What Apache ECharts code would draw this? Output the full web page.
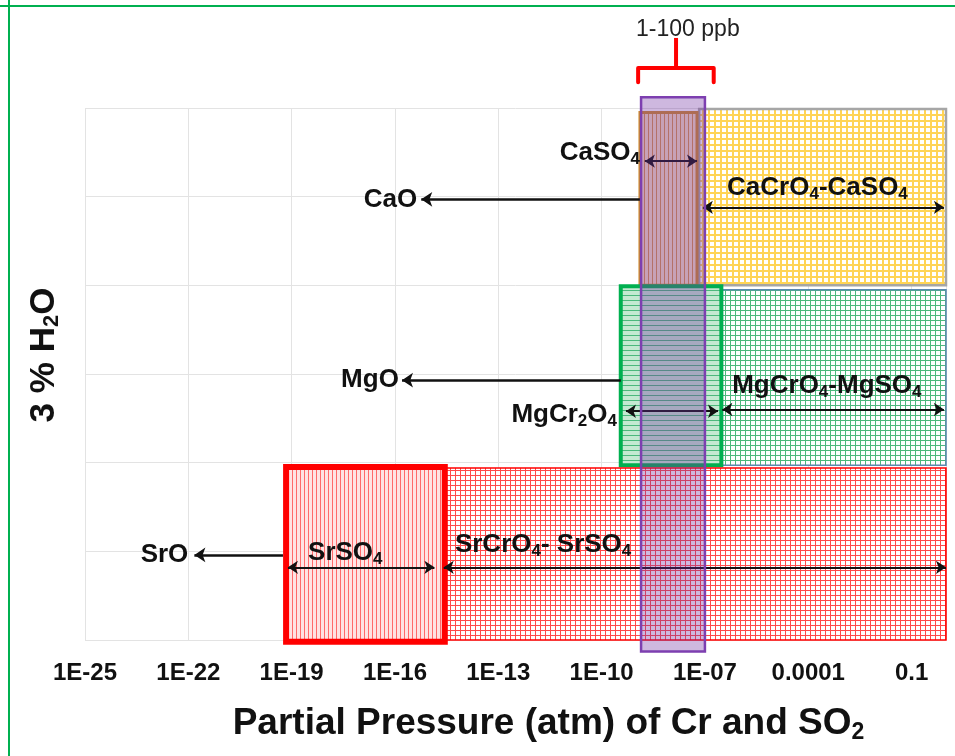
<!DOCTYPE html>
<html>
<head>
<meta charset="utf-8">
<script src="https://cdn.jsdelivr.net/npm/echarts@6/dist/echarts.min.js"></script>
<style>
html, body { margin: 0; padding: 0; background: #fff; }
#chart { width: 955px; height: 756px; }
</style>
</head>
<body>
<div id="chart"></div>
<script>
// x axis: log10 of partial pressure, tick every 3 decades
var decadeMin = -25, decadeMax = 0;
var xTickLabels = ['1E-25', '1E-22', '1E-19', '1E-16', '1E-13', '1E-10', '1E-07', '0.0001', '0.1'];

// stability fields (atm) and row span (rows: Sr 0-2, Mg 2-4, Ca 4-6)
var phaseNames  = ['CaCrO4-CaSO4', 'CaSO4', 'MgCrO4-MgSO4', 'MgCr2O4', 'SrCrO4-SrSO4', 'SrSO4'];
var phaseFrom   = [6.8e-8, 1.3e-9, 3.2e-7, 3.6e-10, 2.8e-15, 6.9e-20];
var phaseTo     = [1, 5.9e-8, 1, 3.0e-7, 1, 2.8e-15];
var phaseBottom = [4.0, 4.0, 1.97, 1.97, 0.0, -0.02];
var phaseTop    = [5.99, 5.95, 3.95, 3.99, 1.94, 1.95];

// 1-100 ppb band
var ppbFrom = 1.4e-9, ppbTo = 1e-7;
var ppbBottom = -0.13, ppbTop = 6.12;
var bracketFrom = 1.15e-9, bracketTo = 1.8e-7, bracketMid = 1.45e-8;
var bracketY = [6.29, 6.45, 6.79];

// oxide arrows (one head)
var oxideFrom = [1.3e-9, 3.6e-10, 5.6e-20];
var oxideTo   = [5.8e-16, 1.6e-16, 1.5e-22];
var oxideY    = [4.97, 2.93, 0.96];

// range arrows (two heads)
var spanFrom = [1.8e-9, 8.7e-8, 5.1e-10, 3.2e-7, 7.8e-20, 2.6e-15];
var spanTo   = [5.9e-8, 0.87, 2.4e-7, 0.87, 1.4e-15, 1];
var spanY    = [5.40, 4.88, 2.58, 2.60, 0.82, 0.82];

// labels
var labelTexts = ['CaO', 'CaSO{s|4}', 'CaCrO{s|4}-CaSO{s|4}', 'MgO', 'MgCr{s|2}O{s|4}',
                  'MgCrO{s|4}-MgSO{s|4}', 'SrO', 'SrSO{s|4}', 'SrCrO{s|4}- SrSO{s|4}'];
var labelAt    = [4.4e-16, 1.3e-9, 4.4e-7, 1.3e-16, 2.8e-10, 6.2e-7, 1e-22, 3.0e-19, 5.5e-15];
var labelY     = [4.96, 5.49, 5.10, 2.93, 2.54, 2.87, 0.96, 0.98, 1.07];
var labelAlign = ['right', 'right', 'left', 'right', 'right', 'left', 'right', 'left', 'left'];

function lx(p) { return Math.log10(p) - decadeMin; }

var FONT = '"Liberation Sans", Arial, sans-serif';

function makePattern(size, bg, color, lw, vert, horiz) {
    var c = document.createElement('canvas');
    c.width = size; c.height = size;
    var g = c.getContext('2d');
    g.fillStyle = bg;
    g.fillRect(0, 0, size, size);
    g.fillStyle = color;
    if (vert) g.fillRect(0, 0, lw, size);
    if (horiz) g.fillRect(0, 0, size, lw);
    return { image: c, repeat: 'repeat' };
}

var phaseStyle = [
    { fill: makePattern(6, '#ffffff', '#ffd455', 2, true, true), stroke: '#a6a6a6', lineWidth: 2.5 },
    { fill: makePattern(4, '#f5dcc2', '#d8934c', 1, true, false), stroke: '#cf8c2c', lineWidth: 3 },
    { fill: makePattern(5, '#ffffff', '#4cb87c', 1, true, true), stroke: '#5b87b0', lineWidth: 1.5 },
    { fill: makePattern(5, '#c4e9d1', '#4cb87c', 1, false, true), stroke: '#00b050', lineWidth: 4 },
    { fill: makePattern(5, '#ffffff', '#ff4a4a', 1, true, true), stroke: '#ff0000', lineWidth: 1.5 },
    { fill: makePattern(4, '#ffe3e3', '#ff6a6a', 1, true, false), stroke: '#ff0000', lineWidth: 6 }
];

var richSub = {
    s: { fontSize: 17, fontWeight: 'bold', fontFamily: FONT, color: '#111', lineHeight: 12, verticalAlign: 'bottom' }
};

var phaseData = phaseNames.map(function (n, i) {
    return [lx(phaseFrom[i]), lx(phaseTo[i]), phaseBottom[i], phaseTop[i]];
});

var oxideLines = oxideFrom.map(function (v, i) {
    return { coords: [[lx(v), oxideY[i]], [lx(oxideTo[i]), oxideY[i]]] };
});
var spanLines = spanFrom.map(function (v, i) {
    return { coords: [[lx(v), spanY[i]], [lx(spanTo[i]), spanY[i]]] };
});

var labelData = labelTexts.map(function (t, i) { return [lx(labelAt[i]), labelY[i]]; });

var option = {
    animation: false,
    grid: { left: 85, right: 9, top: 108, bottom: 116, outerBoundsMode: 'none', containLabel: false },
    graphic: [
        { type: 'line', shape: { x1: 0, y1: 6, x2: 955, y2: 6 }, style: { stroke: '#00b050', lineWidth: 2 }, z: 10 },
        { type: 'line', shape: { x1: 9, y1: 0, x2: 9, y2: 756 }, style: { stroke: '#00b050', lineWidth: 2 }, z: 10 }
    ],
    xAxis: {
        type: 'value',
        min: 0,
        max: decadeMax - decadeMin,
        interval: 3,
        axisLine: { show: false },
        axisTick: { show: false },
        splitLine: { lineStyle: { color: '#e3e3e3', width: 1 } },
        axisLabel: {
            margin: 21,
            fontFamily: FONT,
            fontSize: 24,
            fontWeight: 'bold',
            color: '#111',
            formatter: function (v) {
                var i = Math.round(v / 3);
                return (Math.abs(v - i * 3) < 1e-6 && i < xTickLabels.length) ? xTickLabels[i] : '';
            }
        },
        name: 'Partial Pressure (atm) of Cr and SO{s|2}',
        nameLocation: 'middle',
        nameGap: 64,
        nameTextStyle: {
            fontFamily: FONT, fontSize: 37, fontWeight: 'bold', color: '#111',
            lineHeight: 40, padding: [0, 0, 0, 66],
            rich: { s: { fontSize: 23, fontWeight: 'bold', fontFamily: FONT, color: '#111', lineHeight: 16, verticalAlign: 'bottom' } }
        }
    },
    yAxis: {
        type: 'value',
        min: 0,
        max: 6,
        interval: 1,
        axisLine: { show: false },
        axisTick: { show: false },
        axisLabel: { show: false },
        splitLine: { lineStyle: { color: '#e3e3e3', width: 1 } },
        name: '3 % H{s|2}O',
        nameLocation: 'middle',
        nameRotate: 90,
        nameGap: 22,
        nameTextStyle: {
            fontFamily: FONT, fontSize: 35, fontWeight: 'bold', color: '#111',
            lineHeight: 38, padding: [0, 0, 0, 38],
            rich: { s: { fontSize: 22, fontWeight: 'bold', fontFamily: FONT, color: '#111', lineHeight: 16, verticalAlign: 'bottom' } }
        }
    },
    series: [
        {
            name: 'phases',
            type: 'custom',
            z: 2,
            clip: false,
            data: phaseData,
            encode: { x: [0, 1], y: [2, 3] },
            renderItem: function (params, api) {
                var p1 = api.coord([api.value(0), api.value(3)]);
                var p2 = api.coord([api.value(1), api.value(2)]);
                var st = phaseStyle[params.dataIndex];
                return {
                    type: 'rect',
                    shape: { x: p1[0], y: p1[1], width: p2[0] - p1[0], height: p2[1] - p1[1] },
                    style: { fill: st.fill, stroke: st.stroke, lineWidth: st.lineWidth }
                };
            }
        },
        {
            name: 'oxide arrows',
            type: 'lines',
            coordinateSystem: 'cartesian2d',
            z: 3,
            symbol: ['none', 'arrow'],
            symbolSize: 11,
            lineStyle: { color: '#111', width: 2.5, opacity: 1 },
            data: oxideLines
        },
        {
            name: 'range arrows',
            type: 'lines',
            coordinateSystem: 'cartesian2d',
            z: 3,
            symbol: ['arrow', 'arrow'],
            symbolSize: 10,
            lineStyle: { color: '#111', width: 2, opacity: 1 },
            data: spanLines
        },
        {
            name: 'ppb',
            type: 'custom',
            z: 4,
            clip: false,
            data: [[lx(ppbFrom), lx(ppbTo), ppbBottom, ppbTop]],
            renderItem: function (params, api) {
                var p1 = api.coord([api.value(0), api.value(3)]);
                var p2 = api.coord([api.value(1), api.value(2)]);
                return {
                    type: 'rect',
                    shape: { x: p1[0], y: p1[1], width: p2[0] - p1[0], height: p2[1] - p1[1] },
                    style: { fill: 'rgba(112,48,160,0.34)', stroke: '#7d3fb0', lineWidth: 2.5 }
                };
            }
        },
        {
            name: 'bracket',
            type: 'custom',
            z: 5,
            clip: false,
            data: [[lx(bracketFrom), lx(bracketMid), lx(bracketTo)]],
            renderItem: function (params, api) {
                var a = api.coord([api.value(0), bracketY[0]]);
                var b = api.coord([api.value(0), bracketY[1]]);
                var c = api.coord([api.value(2), bracketY[1]]);
                var d = api.coord([api.value(2), bracketY[0]]);
                var m1 = api.coord([api.value(1), bracketY[1]]);
                var m2 = api.coord([api.value(1), bracketY[2]]);
                var txt = api.coord([lx(3.2e-8), 6.88]);
                return {
                    type: 'group',
                    children: [
                        { type: 'polyline', shape: { points: [a, b, c, d] },
                          style: { stroke: '#ff0000', lineWidth: 4, fill: null, lineJoin: 'round', lineCap: 'round' } },
                        { type: 'line', shape: { x1: m1[0], y1: m1[1], x2: m2[0], y2: m2[1] },
                          style: { stroke: '#ff0000', lineWidth: 4 } },
                        { type: 'text', x: txt[0], y: txt[1],
                          style: { text: '1-100 ppb', fill: '#222', fontFamily: FONT, fontSize: 23,
                                   align: 'center', verticalAlign: 'middle' } }
                    ]
                };
            }
        },
        {
            name: 'labels',
            type: 'custom',
            z: 6,
            clip: false,
            data: labelData,
            renderItem: function (params, api) {
                var p = api.coord([api.value(0), api.value(1)]);
                return {
                    type: 'text',
                    x: p[0], y: p[1],
                    style: {
                        text: labelTexts[params.dataIndex],
                        fill: '#111',
                        fontFamily: FONT, fontSize: 26, fontWeight: 'bold',
                        lineHeight: 30,
                        align: labelAlign[params.dataIndex],
                        verticalAlign: 'middle',
                        rich: richSub
                    }
                };
            }
        }
    ]
};

var chart = echarts.init(document.getElementById('chart'));
chart.setOption(option);
</script>
</body>
</html>
